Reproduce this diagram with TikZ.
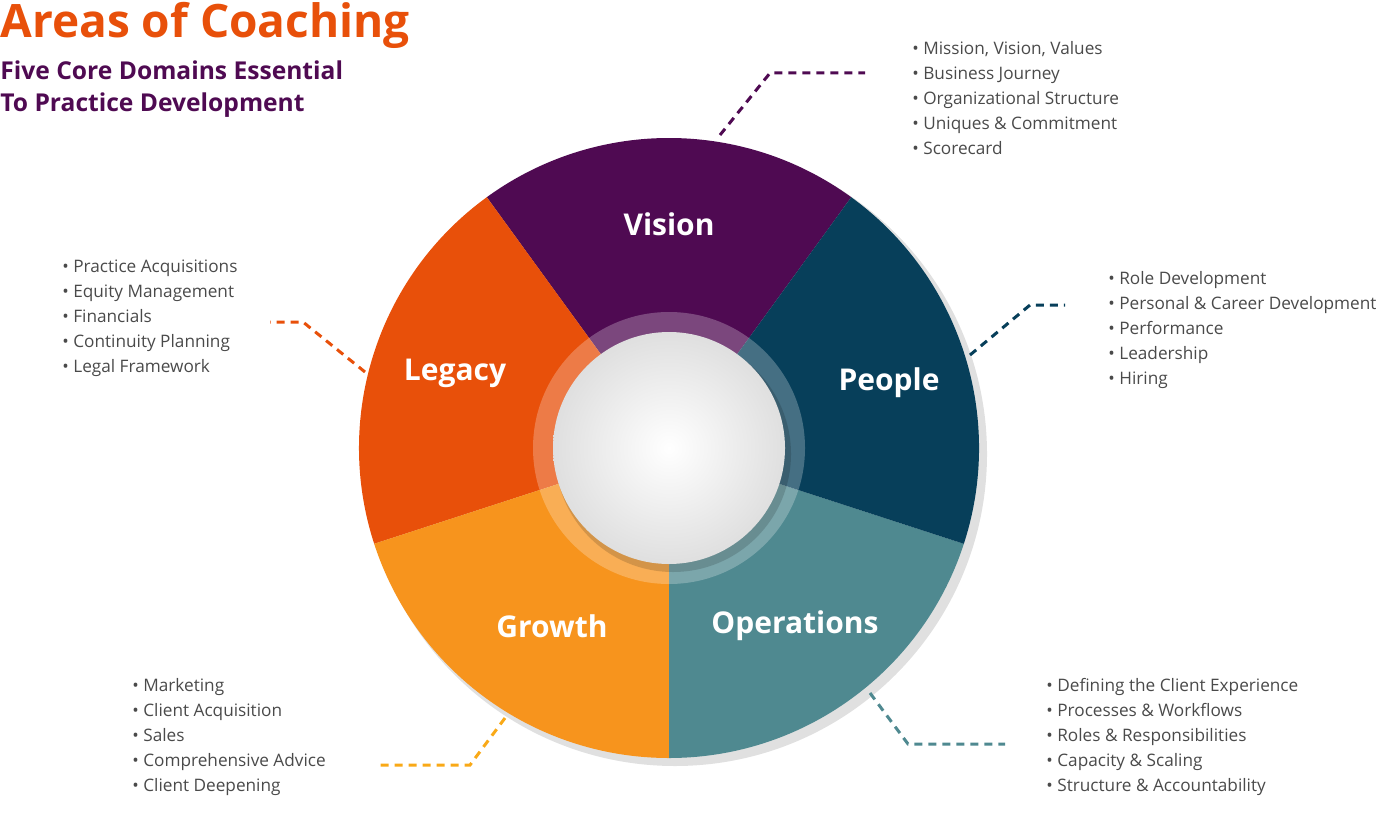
\documentclass[tikz,border=0pt]{standalone}
\usepackage{fontspec}
\setmainfont{Open Sans}
\usetikzlibrary{calc,shadows}
\definecolor{cVis}{HTML}{4F0A52}
\definecolor{cPeo}{HTML}{073F5A}
\definecolor{cOps}{HTML}{4F8990}
\definecolor{cGro}{HTML}{F7941D}
\definecolor{cLeg}{HTML}{E8500A}
\definecolor{cTxt}{HTML}{4A4A4A}
\tikzset{
 seglabel/.style={text=white,font=\fontsize{15}{18}\selectfont\bfseries},
 blist/.style={anchor=north west,align=left,text=cTxt,inner sep=0pt,font=\fontsize{8.6}{12.5}\selectfont},
 leader/.style={dashed,line width=1.5pt,dash pattern=on 4pt off 3pt},
}
\begin{document}
\begin{tikzpicture}[x=0.5pt,y=0.5pt]
\useasboundingbox (0,0) rectangle (1400,826);
\coordinate (c) at (669,378);
% shadow
\fill[black,opacity=0.12] (675,372) circle[radius=312];
% segments
\fill[cVis] (c) -- ++(54:310) arc[start angle=54,end angle=126,radius=310] -- cycle;
\fill[cLeg] (c) -- ++(126:310) arc[start angle=126,end angle=198,radius=310] -- cycle;
\fill[cGro] (c) -- ++(198:310) arc[start angle=198,end angle=270,radius=310] -- cycle;
\fill[cOps] (c) -- ++(270:310) arc[start angle=270,end angle=342,radius=310] -- cycle;
\fill[cPeo] (c) -- ++(342:310) arc[start angle=342,end angle=414,radius=310] -- cycle;
% ring and center
\fill[white,opacity=0.25] (c) circle[radius=136];
\fill[black,opacity=0.15] (673,372) circle[radius=118];
\shade[inner color=white,outer color=gray!25] (c) circle[radius=116];
% labels
\node[seglabel] (lv) at (669,602) {Vision};
\node[seglabel] (ll) at (455,453) {Legacy};
\node[seglabel] (lp) at (889,443) {People};
\node[seglabel] (lg) at (552,200) {Growth};
\node[seglabel] (lo) at (795,200) {Operations};
% title
\node[anchor=north west,inner sep=0pt,text=cLeg,font=\fontsize{23}{26}\selectfont\bfseries] (t) at (0,824) {Areas of Coaching};
\node[anchor=north west,inner sep=0pt,text=cVis,align=left,font=\fontsize{12.3}{16}\selectfont\bfseries] (st) at (0,766) {Five Core Domains Essential\\To Practice Development};
% lists
\node[blist] (bv) at (912,785) {• Mission, Vision, Values\\• Business Journey\\• Organizational Structure\\• Uniques \& Commitment\\• Scorecard};
\node[blist] (bp) at (1108,555) {• Role Development\\• Personal \& Career Development\\• Performance\\• Leadership\\• Hiring};
\node[blist] (bo) at (1046,148) {• Defining the Client Experience\\• Processes \& Workflows\\• Roles \& Responsibilities\\• Capacity \& Scaling\\• Structure \& Accountability};
\node[blist] (bg) at (132,148) {• Marketing\\• Client Acquisition\\• Sales\\• Comprehensive Advice\\• Client Deepening};
\node[blist] (bl) at (62,567) {• Practice Acquisitions\\• Equity Management\\• Financials\\• Continuity Planning\\• Legal Framework};
% leaders
\coordinate (v1) at (720,691); \coordinate (v2) at (865,753);
\draw[leader,cVis] (v1) -- (770,753) -- (v2);
\coordinate (p1) at (970,471); \coordinate (p2) at (1065,521);
\draw[leader,cPeo] (p1) -- (1030,521) -- (p2);
\coordinate (o1) at (870,133); \coordinate (o2) at (1005,82);
\draw[leader,cOps] (o1) -- (908,82) -- (o2);
\coordinate (g1) at (505,108); \coordinate (g2) at (375,61);
\draw[leader,cGro!80!yellow] (g1) -- (470,61) -- (g2);
\coordinate (l1) at (365,454); \coordinate (l2) at (270,504);
\draw[leader,cLeg] (l1) -- (303,504) -- (l2);
\end{tikzpicture}
\end{document}
